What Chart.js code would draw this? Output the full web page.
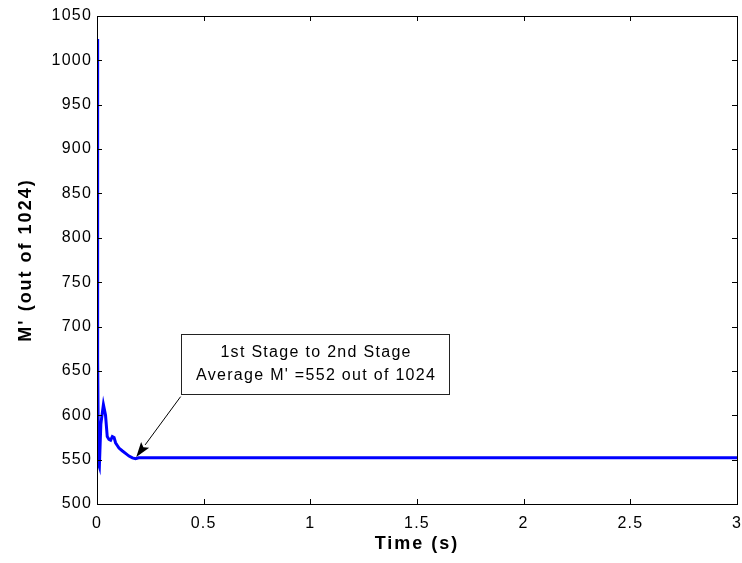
<!DOCTYPE html>
<html>
<head>
<meta charset="utf-8">
<script src="https://cdn.jsdelivr.net/npm/chart.js@4/dist/chart.umd.min.js"></script>
<style>
  html, body { margin: 0; padding: 0; background: #fff; }
  #wrap { width: 742px; height: 563px; }
</style>
</head>
<body>
<div id="wrap"><canvas id="chart"></canvas></div>
<script>
// M' controller trace (out of 1024) against time
const timeSec = [0, 0.002, 0.004, 0.007, 0.011, 0.018, 0.030, 0.040, 0.048, 0.056, 0.064, 0.072, 0.080, 0.087, 0.095, 0.103, 0.118, 0.134, 0.150, 0.166, 0.181, 0.195, 3.0];
const mPrime  = [1024, 543, 663, 545, 542, 590, 612, 600, 576, 573, 572, 576, 575, 569, 566, 563, 560, 557, 554, 552, 551, 552, 552];

const xTicks = [0, 0.5, 1, 1.5, 2, 2.5, 3];
const yTicks = [500, 550, 600, 650, 700, 750, 800, 850, 900, 950, 1000, 1050];

const noteLines = ['1st Stage to 2nd Stage', "Average M' =552 out of 1024"];
const noteBox = { x0: 0.394, x1: 1.649, y0: 624, y1: 692 };   // box corners in data units
const noteArrow = { fromX: 0.392, fromY: 621, toX: 0.184, toY: 553 };

const FONT = 'Arial, "Liberation Sans", sans-serif';

// wide MATLAB-style lettering: titles, then plain line, then callout + tick labels
const spacingPlugin = {
  id: 'spacing',
  beforeDraw(chart) { chart.ctx.letterSpacing = '2px'; },
  beforeDatasetsDraw(chart) { chart.ctx.letterSpacing = '0px'; },
  afterDraw(chart) { chart.ctx.letterSpacing = '0px'; }
};

// box around the axes, inward ticks on all sides, and the text callout
const framePlugin = {
  id: 'frame',
  afterDatasetsDraw(chart) {
    const { ctx, chartArea: a, scales: { x, y } } = chart;
    ctx.save();
    ctx.letterSpacing = '0px';
    ctx.strokeStyle = '#000';
    ctx.lineWidth = 1;
    ctx.strokeRect(Math.round(a.left) + 0.5, Math.round(a.top) + 0.5,
                   Math.round(a.right - a.left), Math.round(a.bottom - a.top));
    const tl = 5;
    ctx.beginPath();
    xTicks.forEach(v => {
      const px = Math.round(x.getPixelForValue(v)) + 0.5;
      ctx.moveTo(px, a.bottom); ctx.lineTo(px, a.bottom - tl);
      ctx.moveTo(px, a.top); ctx.lineTo(px, a.top + tl);
    });
    yTicks.forEach(v => {
      const py = Math.round(y.getPixelForValue(v)) + 0.5;
      ctx.moveTo(a.left, py); ctx.lineTo(a.left + tl, py);
      ctx.moveTo(a.right, py); ctx.lineTo(a.right - tl, py);
    });
    ctx.stroke();

    // callout box
    const bx0 = Math.round(x.getPixelForValue(noteBox.x0)) + 0.5;
    const bx1 = Math.round(x.getPixelForValue(noteBox.x1)) + 0.5;
    const by0 = Math.round(y.getPixelForValue(noteBox.y1)) + 0.5;
    const by1 = Math.round(y.getPixelForValue(noteBox.y0)) + 0.5;
    ctx.fillStyle = '#fff';
    ctx.fillRect(bx0, by0, bx1 - bx0, by1 - by0);
    ctx.strokeStyle = '#222';
    ctx.strokeRect(bx0, by0, bx1 - bx0, by1 - by0);
    ctx.fillStyle = '#000';
    ctx.font = '16px ' + FONT;
    ctx.letterSpacing = '1.3px';
    ctx.textAlign = 'center';
    ctx.textBaseline = 'middle';
    const cx = (bx0 + bx1) / 2 + 0.6;
    const cy = (by0 + by1) / 2;
    ctx.fillText(noteLines[0], cx, cy - 11.5);
    ctx.fillText(noteLines[1], cx, cy + 11.5);
    ctx.letterSpacing = '0px';

    // arrow
    const ax0 = x.getPixelForValue(noteArrow.fromX), ay0 = y.getPixelForValue(noteArrow.fromY);
    const ax1 = x.getPixelForValue(noteArrow.toX), ay1 = y.getPixelForValue(noteArrow.toY);
    const ang = Math.atan2(ay1 - ay0, ax1 - ax0);
    const hl = 15, hw = 5;
    const bxh = ax1 - hl * Math.cos(ang), byh = ay1 - hl * Math.sin(ang);
    ctx.strokeStyle = '#000';
    ctx.beginPath();
    ctx.moveTo(ax0, ay0); ctx.lineTo(bxh, byh);
    ctx.stroke();
    ctx.beginPath();
    ctx.moveTo(ax1, ay1);
    ctx.lineTo(bxh + hw * Math.sin(ang), byh - hw * Math.cos(ang));
    ctx.lineTo(bxh + 3 * Math.cos(ang), byh + 3 * Math.sin(ang));
    ctx.lineTo(bxh - hw * Math.sin(ang), byh + hw * Math.cos(ang));
    ctx.closePath();
    ctx.fill();
    ctx.restore();
    // tick labels are drawn after this (ticks.z = 1)
    ctx.letterSpacing = '1.2px';
  }
};

new Chart(document.getElementById('chart'), {
  type: 'line',
  data: {
    datasets: [{
      data: timeSec.map((t, i) => ({ x: t, y: mPrime[i] })),
      borderColor: '#0000ff',
      borderWidth: 3,
      pointRadius: 0,
      tension: 0,
      fill: false
    }]
  },
  options: {
    responsive: true,
    maintainAspectRatio: false,
    animation: false,
    layout: { padding: { top: 16, right: 5, left: 0, bottom: 0 } },
    plugins: { legend: { display: false }, tooltip: { enabled: false } },
    scales: {
      x: {
        type: 'linear',
        min: 0, max: 3,
        afterBuildTicks: s => { s.ticks = xTicks.map(v => ({ value: v })); },
        afterFit: s => { s.height = 59; s.paddingLeft = 0; s.paddingRight = 0; },
        grid: { display: false, drawTicks: false },
        border: { display: false },
        ticks: { z: 1, color: '#000', padding: 10, font: { family: FONT, size: 16 },
                 callback: v => String(v) },
        title: { display: true, text: 'Time (s)', color: '#000', padding: { bottom: 8 },
                 font: { family: FONT, size: 18, weight: 'bold' } }
      },
      y: {
        min: 500, max: 1050,
        afterBuildTicks: s => { s.ticks = yTicks.map(v => ({ value: v })); },
        afterFit: s => { s.width = 97; s.paddingTop = 0; s.paddingBottom = 0; },
        grid: { display: false, drawTicks: false },
        border: { display: false },
        ticks: { z: 1, color: '#000', padding: 5, font: { family: FONT, size: 16 },
                 callback: v => String(v) },
        title: { display: true, text: "M' (out of 1024)", color: '#000', padding: { top: 15 },
                 font: { family: FONT, size: 18, weight: 'bold' } }
      }
    }
  },
  plugins: [spacingPlugin, framePlugin]
});
</script>
</body>
</html>
